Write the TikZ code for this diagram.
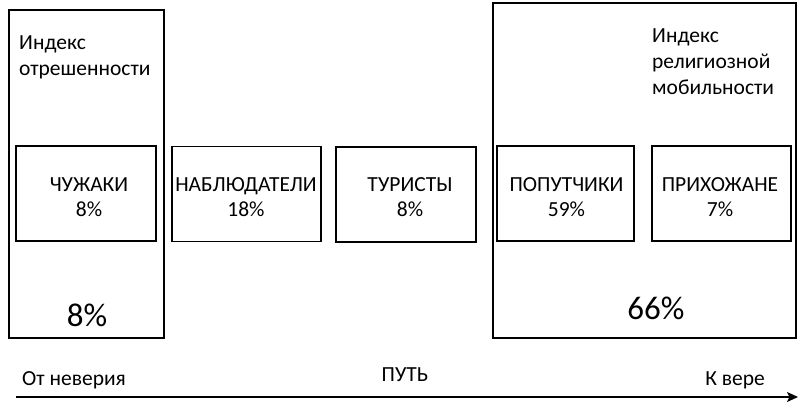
\documentclass[tikz,border=0pt]{standalone}
\usepackage{fontspec}
\setmainfont{Carlito}
\usetikzlibrary{arrows.meta}
\begin{document}
\begin{tikzpicture}[x=1pt,y=-1pt,
  outerbox/.style={draw,line width=1.8pt},
  catbox/.style={draw,line width=1.6pt,rectangle,inner sep=0pt,minimum height=95pt},
  cattext/.style={align=center,inner sep=0pt,font=\fontsize{21.5}{25}\selectfont},
  lbl/.style={font=\fontsize{21.5}{26}\selectfont,align=left,inner sep=0pt},
  big/.style={font=\fontsize{33}{38}\selectfont,inner sep=0pt}]
\useasboundingbox (0,0) rectangle (807,412);
\draw[outerbox] (9,10) rectangle (164,338);
\draw[outerbox] (493,3) rectangle (796,338);
\node[lbl,anchor=north west] (li) at (19,36) {Индекс\\отрешенности};
\node[lbl,anchor=north west] (ri) at (652,29) {Индекс\\религиозной\\мобильности};
\node[catbox,minimum width=140pt] (c1) at (86,193.5) {};
\node[catbox,minimum width=149pt] (c2) at (246.5,194) {};
\node[catbox,minimum width=140pt] (c3) at (406,194.5) {};
\node[catbox,minimum width=137pt] (c4) at (565.5,193.5) {};
\node[catbox,minimum width=139pt] (c5) at (721.5,193.5) {};
\node[cattext] (t1) at (89,197.5) {ЧУЖАКИ\\8\%};
\node[cattext] (t2) at (246,197.5) {НАБЛЮДАТЕЛИ\\18\%};
\node[cattext] (t3) at (410,197.5) {ТУРИСТЫ\\8\%};
\node[cattext] (t4) at (566.5,197.5) {ПОПУТЧИКИ\\59\%};
\node[cattext] (t5) at (720,197.5) {ПРИХОЖАНЕ\\7\%};
\node[big] (p1) at (87,315) {8\%};
\node[big] (p2) at (656,308) {66\%};
\coordinate (a0) at (16,397);
\coordinate (a1) at (798,397);
\draw[line width=1.4pt,-{Stealth[length=11pt,width=10pt,inset=2.5pt]}] (a0) -- (a1);
\node[lbl,anchor=west] (b1) at (22,380) {От неверия};
\node[lbl] (b2) at (405,375) {ПУТЬ};
\node[lbl,anchor=east] (b3) at (765,380) {К вере};
\end{tikzpicture}
\end{document}
